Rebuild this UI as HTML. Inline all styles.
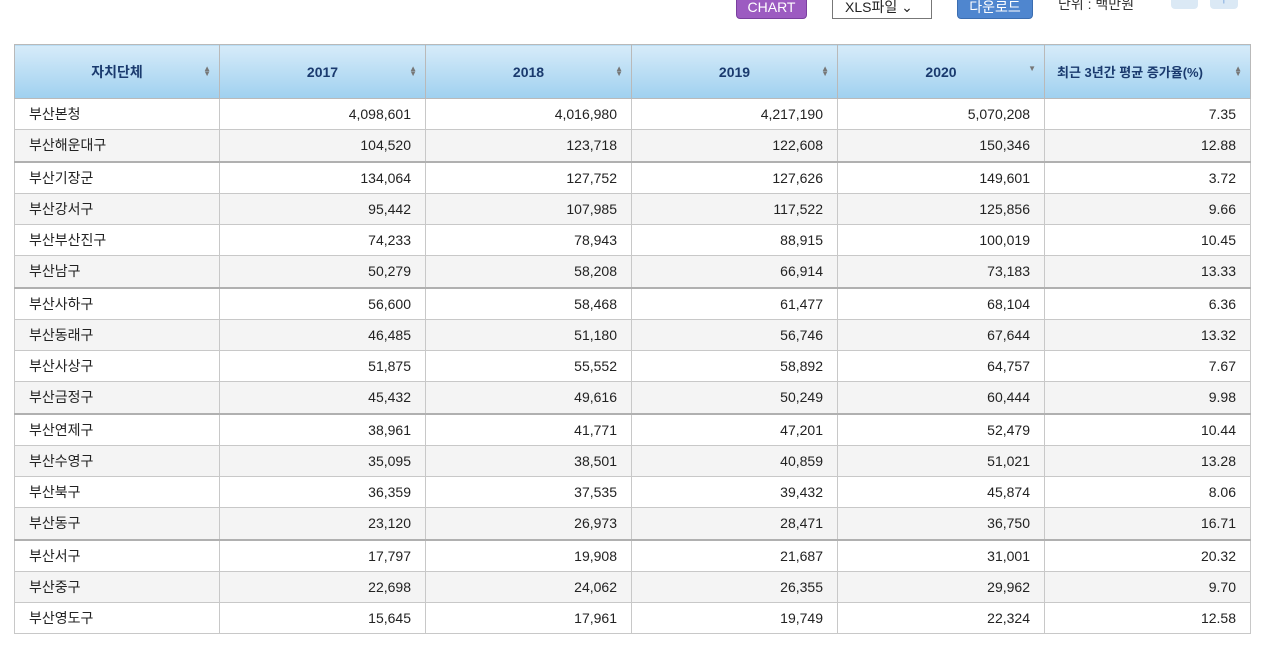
<!DOCTYPE html>
<html><head><meta charset="utf-8">
<style>
body{margin:0;width:1271px;height:655px;background:#fff;position:relative;overflow:hidden;font-family:"Liberation Sans","Noto Sans CJK KR",sans-serif;}
.btn{position:absolute;top:-12px;height:31px;border-radius:4px;font-size:14px;color:#fff;text-align:center;line-height:36px;box-sizing:border-box;}
#tbl{position:absolute;left:14px;top:44px;border-collapse:collapse;table-layout:fixed;font-size:14px;color:#222;}
#tbl th{height:53px;background:linear-gradient(#d6ebf9,#9fd0ef);border:1px solid #b9b9b9;color:#1a3a6e;font-weight:bold;font-size:14px;position:relative;padding:0;}
#tbl td{height:30.25px;border:1px solid #c8c8c8;padding:0 14px;}
#tbl td.n{text-align:right;}
#tbl tr.alt td{background:#f4f4f4;}
#tbl tr.grp td{border-top:2px solid #b0b0b0;}
.sort{position:absolute;right:8px;top:21px;font-size:8px;line-height:5px;color:#777;}
</style></head><body>
<div class="btn" style="left:736px;width:71px;background:#9c5bc1;border:1px solid #7a3f9e;">CHART</div>
<div class="btn" style="left:832px;width:100px;background:#fff;border:1px solid #777;color:#222;border-radius:0;text-align:left;padding-left:12px;">XLS파일 &#8964;</div>
<div class="btn" style="left:957px;width:76px;background:#4f86cf;border:1px solid #3b6db0;">다운로드</div>
<div style="position:absolute;left:1058px;top:-6px;font-size:14px;color:#333;">단위 : 백만원</div>
<div class="btn" style="left:1171px;width:27px;top:-20px;height:29px;background:#dbe9f5;"></div>
<div class="btn" style="left:1210px;width:28px;top:-20px;height:29px;background:#dbe9f5;color:#4f86cf;">↑</div>
<table id="tbl">
<colgroup><col style="width:205px"><col style="width:206px"><col style="width:206px"><col style="width:206px"><col style="width:207px"><col style="width:206px"></colgroup>
<thead><tr id="hdr"></tr></thead><tbody id="body"></tbody></table>
<script>
const headers=["자치단체","2017","2018","2019","2020","최근 3년간 평균 증가율(%)"];
const names=["부산본청","부산해운대구","부산기장군","부산강서구","부산부산진구","부산남구","부산사하구","부산동래구","부산사상구","부산금정구","부산연제구","부산수영구","부산북구","부산동구","부산서구","부산중구","부산영도구"];
const v2017=["4,098,601","104,520","134,064","95,442","74,233","50,279","56,600","46,485","51,875","45,432","38,961","35,095","36,359","23,120","17,797","22,698","15,645"];
const v2018=["4,016,980","123,718","127,752","107,985","78,943","58,208","58,468","51,180","55,552","49,616","41,771","38,501","37,535","26,973","19,908","24,062","17,961"];
const v2019=["4,217,190","122,608","127,626","117,522","88,915","66,914","61,477","56,746","58,892","50,249","47,201","40,859","39,432","28,471","21,687","26,355","19,749"];
const v2020=["5,070,208","150,346","149,601","125,856","100,019","73,183","68,104","67,644","64,757","60,444","52,479","51,021","45,874","36,750","31,001","29,962","22,324"];
const rate=["7.35","12.88","3.72","9.66","10.45","13.33","6.36","13.32","7.67","9.98","10.44","13.28","8.06","16.71","20.32","9.70","12.58"];
const hdr=document.getElementById('hdr');
headers.forEach((h,i)=>{
  const th=document.createElement('th');
  
  
  th.innerHTML=h+'<span class="sort">'+(i==4?'▼':'▲<br>▼')+'</span>';
  if(i==5){th.style.fontSize='13px';th.style.textAlign='left';th.style.paddingLeft='12px';}
  hdr.appendChild(th);
});
const body=document.getElementById('body');
names.forEach((n,r)=>{
  const tr=document.createElement('tr');
  
  
  if(r%2==1) tr.className='alt';
  if(r==2||r==6||r==10||r==14) tr.className+=' grp';
  [n,v2017[r],v2018[r],v2019[r],v2020[r],rate[r]].forEach((c,i)=>{
    const td=document.createElement('td');
    
    
    if(i>0) td.className='n';
    td.textContent=c;
    tr.appendChild(td);
  });
  body.appendChild(tr);
});
</script>
</body></html>
